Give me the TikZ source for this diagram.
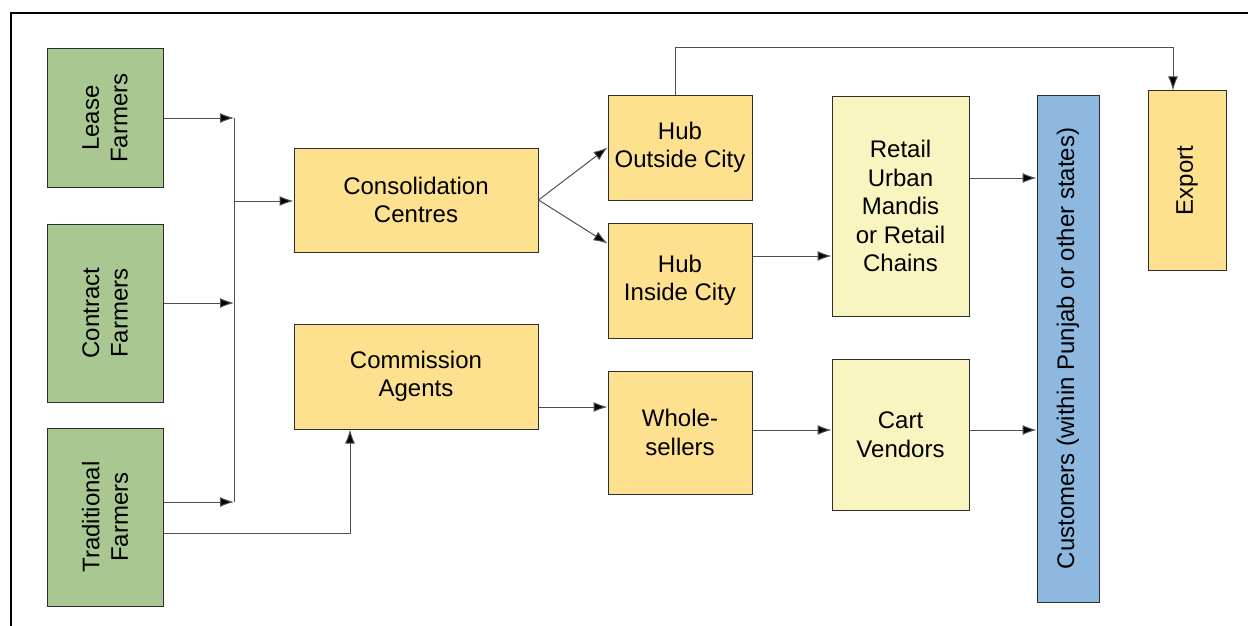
\documentclass[tikz,border=0pt]{standalone}
\usepackage{fontspec}
\setmainfont{Liberation Sans}
\usetikzlibrary{arrows.meta,calc}
\definecolor{gfill}{HTML}{A9C891}
\definecolor{ofill}{HTML}{FDE18F}
\definecolor{yfill}{HTML}{F8F5C0}
\definecolor{bfill}{HTML}{8DB9E0}
\definecolor{edge}{HTML}{2E2E2E}
\definecolor{wire}{HTML}{505050}
\begin{document}
\begin{tikzpicture}[x=1pt,y=-1pt,
  box/.style={draw=edge,line width=1pt,rectangle,inner sep=0pt,align=center,
    font=\fontsize{24}{28.5}\selectfont},
  gbox/.style={box,fill=gfill},
  obox/.style={box,fill=ofill},
  ybox/.style={box,fill=yfill},
  bbox/.style={box,fill=bfill},
  arr/.style={draw=wire,line width=1pt,-{Latex[length=14pt,width=10pt,fill=black]}},
  wireline/.style={draw=wire,line width=1pt}]
\useasboundingbox (0,0) rectangle (1248,626);
% frame
\draw[line width=1.2pt,black] (11,626) -- (11,13) -- (1248,13);
% farmers
\node[gbox,minimum width=116pt,minimum height=138pt] (lease) at (105,118) {};
\node[rotate=90,align=center,font=\fontsize{24}{28.5}\selectfont] (leaset) at (lease.center) {Lease\\Farmers};
\node[gbox,minimum width=116pt,minimum height=178pt] (contract) at (105,313) {};
\node[rotate=90,align=center,font=\fontsize{24}{28.5}\selectfont] (contractt) at (contract.center) {Contract\\Farmers};
\node[gbox,minimum width=116pt,minimum height=178pt] (trad) at (105,517) {};
\node[rotate=90,align=center,font=\fontsize{24}{28.5}\selectfont] (tradt) at (trad.center) {Traditional\\Farmers};
% middle
\node[obox,minimum width=244pt,minimum height=104pt] (cons) at (416,200) {Consolidation\\Centres};
\node[obox,minimum width=244pt,minimum height=105pt] (comm) at (416,376.5) {Commission\\Agents};
\node[obox,minimum width=144pt,minimum height=105pt] (hubout) at (680,147.5) {Hub\\Outside City};
\node[obox,minimum width=144pt,minimum height=115pt] (hubin) at (680,280.5) {Hub\\Inside City};
\node[obox,minimum width=144pt,minimum height=123pt] (whole) at (680,432.5) {Whole-\\sellers};
\node[ybox,minimum width=137pt,minimum height=220pt] (retail) at (900.5,206) {Retail\\Urban\\Mandis\\or Retail\\Chains};
\node[ybox,minimum width=137pt,minimum height=151pt] (cart) at (900.5,434.5) {Cart\\Vendors};
\node[bbox,minimum width=62pt,minimum height=507pt] (cust) at (1068,348.5) {};
\node[rotate=90,font=\fontsize{24}{28.5}\selectfont] (custt) at (cust.center) {Customers (within Punjab or other states)};
\node[obox,minimum width=78pt,minimum height=179pt] (export) at (1187,180.5) {};
\node[rotate=90,font=\fontsize{24}{28.5}\selectfont] (exportt) at (export.center) {Export};
% junction coordinates
\coordinate (j1) at (234,118);
\coordinate (j2) at (234,303);
\coordinate (j3) at (234,502);
\coordinate (jm) at (234,201);
\coordinate (tc) at (350,533);
\coordinate (top) at (675,48);
\coordinate (yr) at (0,256);
\coordinate (yc) at (0,178);
\coordinate (yw) at (0,407);
\coordinate (yv) at (0,430);
% connectors
\draw[wireline] (j1) -- (j3);
\draw[arr] (lease.east |- j1) -- (j1);
\draw[arr] (contract.east |- j2) -- (j2);
\draw[arr] (trad.east |- j3) -- (j3);
\draw[arr] (jm) -- (cons.west |- jm);
\draw[arr] (trad.east |- tc) -| (tc |- comm.south);
\draw[arr] (cons.east) -- (hubout.west);
\draw[arr] (cons.east) -- ([yshift=-21pt]hubin.north west);
\draw[arr] (hubout.north -| top) -- (top) -| ([xshift=-14pt]export.north);
\draw[arr] (hubin.east |- yr) -- (retail.west |- yr);
\draw[arr] (retail.east |- yc) -- (cust.west |- yc);
\draw[arr] (comm.east |- yw) -- (whole.west |- yw);
\draw[arr] (whole.east |- yv) -- (cart.west |- yv);
\draw[arr] (cart.east |- yv) -- (cust.west |- yv);
\end{tikzpicture}
\end{document}
